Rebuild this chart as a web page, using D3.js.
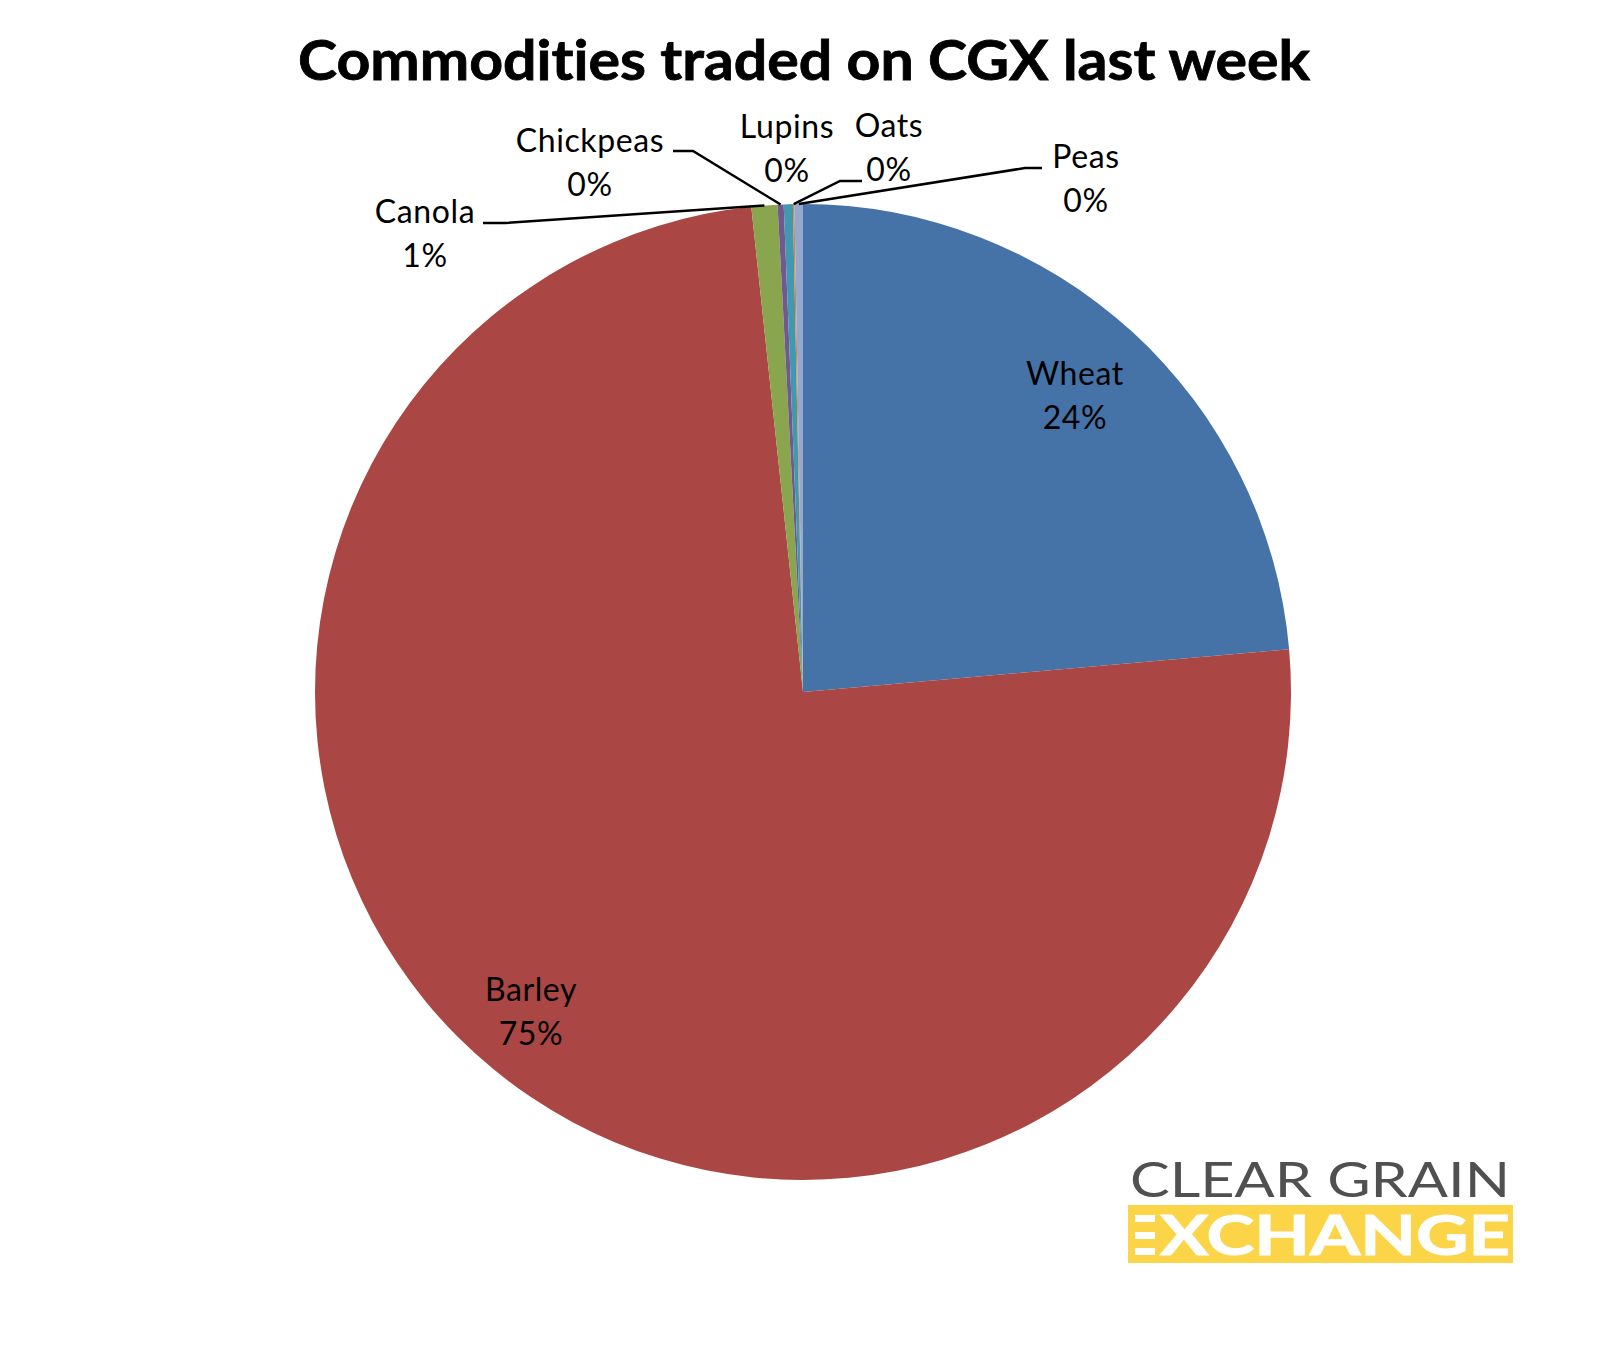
<!DOCTYPE html>
<html>
<head>
<meta charset="utf-8">
<script src="https://cdn.jsdelivr.net/npm/d3@7"></script>
<style>
  html, body { margin: 0; padding: 0; background: #ffffff; }
  svg { display: block; }
  text { font-variant-ligatures: none; font-feature-settings: "liga" 0; }
</style>
</head>
<body>
<svg id="chart" width="1608" height="1350"></svg>
<script>
// ---- data ----
const categories = ["Wheat", "Barley", "Canola", "Chickpeas", "Lupins", "Oats", "Peas"];
const shares = [23.6, 74.7, 0.86, 0.2, 0.3, 0.05, 0.28];
const percentLabels = ["24%", "75%", "1%", "0%", "0%", "0%", "0%"];
const colours = ["#4572A7", "#AA4643", "#89A54E", "#71588F", "#4198AF", "#DB843D", "#93A9CF"];
const title = "Commodities traded on CGX last week";

// ---- layout (positions only) ----
const cx = 803, cy = 692, R = 488;
const labelPos = {
  Wheat:     { x: 1075, y: 385, leader: null },
  Barley:    { x: 531,  y: 1001, leader: null },
  Canola:    { x: 425,  y: 223, leader: [[483, 223], [505, 223]] },
  Chickpeas: { x: 590,  y: 152, leader: [[673, 151], [693, 151]] },
  Lupins:    { x: 787,  y: 138, leader: null },
  Oats:      { x: 889,  y: 137, leader: [[862, 181], [840, 181]] },
  Peas:      { x: 1086, y: 168, leader: [[1042, 168], [1025, 168]] }
};
const lineGap = 44;

const svg = d3.select("#chart");

svg.append("text")
  .attr("x", 804).attr("y", 80)
  .attr("text-anchor", "middle")
  .attr("font-family", "Lato, 'Open Sans', sans-serif")
  .attr("font-weight", 700)
  .attr("font-size", 55)
  .attr("fill", "#000")
  .attr("stroke", "#000")
  .attr("stroke-width", 0.8)
  .attr("textLength", 1012)
  .attr("lengthAdjust", "spacingAndGlyphs")
  .text(title);

const data = categories.map((c, i) => ({ name: c, value: shares[i], pct: percentLabels[i], colour: colours[i] }));

const pie = d3.pie().sort(null).value(d => d.value);
const arcs = pie(data);
const arc = d3.arc().innerRadius(0).outerRadius(R);

const g = svg.append("g").attr("transform", `translate(${cx},${cy})`);

g.selectAll("path.slice")
  .data(arcs)
  .join("path")
  .attr("class", "slice")
  .attr("d", arc)
  .attr("fill", d => d.data.colour);

// leader lines
const lineG = svg.append("g");
arcs.forEach(a => {
  const lp = labelPos[a.data.name];
  if (!lp.leader) return;
  const mid = (a.startAngle + a.endAngle) / 2;
  const ex = cx + R * Math.sin(mid);
  const ey = cy - R * Math.cos(mid);
  const pts = [lp.leader[0], lp.leader[1], [ex, ey]];
  lineG.append("path")
    .attr("d", d3.line()(pts))
    .attr("fill", "none")
    .attr("stroke", "#000")
    .attr("stroke-width", 2.5);
});

// labels
const labG = svg.append("g")
  .attr("font-family", "Lato, 'Open Sans', sans-serif")
  .attr("font-size", 32)
  .attr("letter-spacing", 0.6)
  .attr("fill", "#000")
  .attr("text-anchor", "middle");
arcs.forEach(a => {
  const lp = labelPos[a.data.name];
  labG.append("text").attr("x", lp.x).attr("y", lp.y).text(a.data.name);
  labG.append("text").attr("x", lp.x).attr("y", lp.y + lineGap).text(a.data.pct);
});

// logo
const logo = svg.append("g");
logo.append("text")
  .attr("x", 1130).attr("y", 1197)
  .attr("font-family", "Lato, sans-serif")
  .attr("font-weight", 400)
  .attr("font-size", 49)
  .attr("fill", "#505050")
  .attr("textLength", 380)
  .attr("lengthAdjust", "spacingAndGlyphs")
  .text("CLEAR GRAIN");
logo.append("rect")
  .attr("x", 1128).attr("y", 1205).attr("width", 385).attr("height", 58)
  .attr("fill", "#FCD447");
[1215, 1232, 1248].forEach(y => {
  logo.append("rect").attr("x", 1135).attr("y", y).attr("width", 20).attr("height", 7).attr("fill", "#fff");
});
logo.append("text")
  .attr("x", 1160).attr("y", 1255)
  .attr("font-family", "Lato, sans-serif")
  .attr("font-weight", 700)
  .attr("font-size", 55)
  .attr("fill", "#fff")
  .attr("stroke", "#fff")
  .attr("stroke-width", 1)
  .attr("textLength", 350)
  .attr("lengthAdjust", "spacingAndGlyphs")
  .text("XCHANGE");
</script>
</body>
</html>
